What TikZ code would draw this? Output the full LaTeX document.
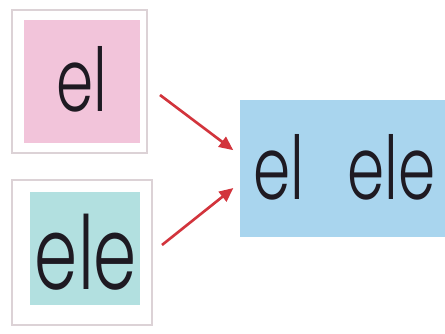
\documentclass[tikz,border=0pt]{standalone}
\usepackage{graphicx}
\usepackage{fontspec}
\usepackage{tikz}
\usepackage{xcolor}
\usetikzlibrary{arrows.meta, positioning, calc}
\newfontfamily\kidfont[UprightFont={* Light}, FakeStretch=0.68]{Poppins}
\definecolor{Tile_Pink}{HTML}{F2C4DA}
\definecolor{Tile_Teal}{HTML}{B2E0E0}
\definecolor{Tile_Blue}{HTML}{A9D5EE}
\definecolor{Frame_Gray}{HTML}{DCD2D6}
\definecolor{Arrow_Red}{HTML}{D2343C}
\definecolor{Ink}{HTML}{1E1A22}

\begin{document}
\begin{tikzpicture}[
    frame/.style={draw=Frame_Gray, line width=0.8pt, fill=white, inner sep=0pt},
    tile/.style={inner sep=0pt},
    word/.style={anchor=base, text=Ink, inner sep=0pt, font=\kidfont\fontsize{50}{52}\selectfont},
    link/.style={-{Triangle[length=8pt, width=7pt]}, line width=1.5pt, Arrow_Red}
]
    % Page size
    \useasboundingbox (0,0) rectangle (8.9,6.68);

    % Pink card
    \node[frame, minimum width=2.7cm, minimum height=2.86cm] (elframe) at (1.59,5.05) {};
    \node[tile, fill=Tile_Pink, minimum width=2.32cm, minimum height=2.46cm] (eltile) at (1.64,5.05) {};
    \node[word] (elword) at (1.64,4.44) {el};

    % Teal card
    \node[frame, minimum width=2.8cm, minimum height=2.9cm] (eleframe) at (1.64,1.63) {};
    \node[tile, fill=Tile_Teal, minimum width=2.2cm, minimum height=2.26cm] (eletile) at (1.7,1.71) {};
    \node[word, font=\kidfont\fontsize{58}{60}\selectfont] (eleword) at (1.72,0.88) {ele};

    % Blue result
    \node[tile, fill=Tile_Blue, minimum width=4.1cm, minimum height=2.74cm] (joined) at (6.85,3.31) {};
    \node[word] (joinedword) at (6.89,2.68) {el\hspace{0.85cm}ele};

    % Arrows
    \coordinate (elstart) at (3.2,4.78);
    \coordinate (elestart) at (3.24,1.78);
    \draw[link, shorten >=0.16cm] (elstart) -- ([yshift=0.27cm]joined.west);
    \draw[link, shorten >=0.16cm] (elestart) -- ([yshift=-0.29cm]joined.west);
\end{tikzpicture}
\end{document}
